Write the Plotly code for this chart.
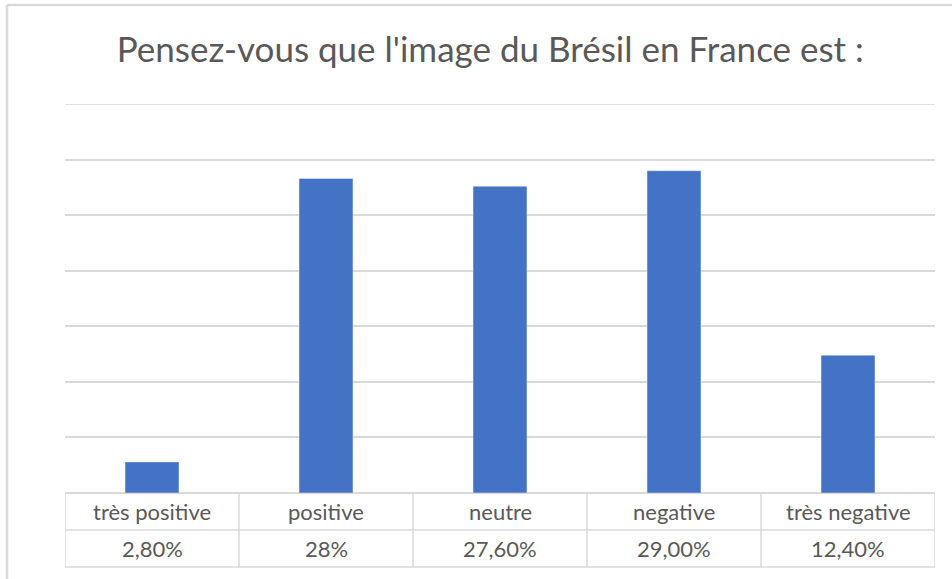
import plotly.graph_objects as go

categories = ["très positive", "positive", "neutre", "negative", "très negative"]
values = [2.8, 28.3, 27.6, 29.0, 12.4]
value_labels = ["2,80%", "28%", "27,60%", "29,00%", "12,40%"]
title_text = "Pensez-vous que l'image du Brésil en France est :"
y_max = 35

W, H = 952, 579
L, R, T, B = 65, 17, 104, 86
plot_h = H - T - B
plot_w = W - L - R

def py(pix):
    return (H - B - pix) / plot_h

def px(pix):
    return (pix - L) / plot_w

grid_col = "#d9d9d9"
text_col = "#595959"
font_fam = "Lato, 'Open Sans', sans-serif"

x_idx = list(range(len(categories)))
fig = go.Figure(go.Bar(x=x_idx, y=values, marker_color="#4472C4", width=0.31,
                       hoverinfo="skip"))

shapes = []
row1 = py(530)
row2 = py(567)
n = len(categories)
lw = 1.5
# top gridline (at range edge)
shapes.append(dict(type="line", xref="paper", yref="y", x0=0, x1=1, y0=y_max, y1=y_max,
                   line=dict(color=grid_col, width=lw), layer="below"))
for i in range(n + 1):
    shapes.append(dict(type="line", xref="x", yref="paper", x0=i - 0.5, x1=i - 0.5,
                       y0=0, y1=row2, line=dict(color=grid_col, width=lw)))
for yy in (row1, row2):
    shapes.append(dict(type="line", xref="x", yref="paper", x0=-0.57, x1=n - 0.5,
                       y0=yy, y1=yy, line=dict(color=grid_col, width=lw)))
shapes.append(dict(type="line", xref="x", yref="paper", x0=-0.57, x1=-0.57,
                   y0=row1, y1=row2, line=dict(color=grid_col, width=lw)))
# outer frame
shapes.append(dict(type="line", xref="paper", yref="paper", x0=px(7), x1=px(960),
                   y0=py(5), y1=py(5), line=dict(color=grid_col, width=2.5)))
shapes.append(dict(type="line", xref="paper", yref="paper", x0=px(7), x1=px(7),
                   y0=py(5), y1=py(590), line=dict(color=grid_col, width=2.5)))

annotations = []
for i, (c, v) in enumerate(zip(categories, value_labels)):
    annotations.append(dict(x=i, y=py(511), xref="x", yref="paper", text=c,
                            xanchor="center", yanchor="middle", showarrow=False,
                            font=dict(size=22, color=text_col, family=font_fam)))
    annotations.append(dict(x=i, y=py(548), xref="x", yref="paper", text=v,
                            xanchor="center", yanchor="middle", showarrow=False,
                            font=dict(size=22, color=text_col, family=font_fam)))

fig.update_layout(
    width=W, height=H,
    margin=dict(l=L, r=R, t=T, b=B),
    paper_bgcolor="white", plot_bgcolor="white",
    title=dict(text=title_text, x=0.515, xanchor="center", y=1 - 50 / H, yanchor="middle",
               font=dict(size=35, color=text_col, family=font_fam)),
    xaxis=dict(range=[-0.5, n - 0.5], showticklabels=False, showgrid=False,
               zeroline=False, showline=False, ticks=""),
    yaxis=dict(range=[0, y_max], dtick=5, showticklabels=False, showgrid=True,
               gridcolor=grid_col, gridwidth=lw, zeroline=True, zerolinecolor=grid_col,
               zerolinewidth=lw, showline=False, ticks=""),
    shapes=shapes, annotations=annotations, showlegend=False,
)

fig.write_html("out.html", config={"displayModeBar": False},
               post_script="document.body.style.margin='0';document.body.style.overflow='hidden';")
